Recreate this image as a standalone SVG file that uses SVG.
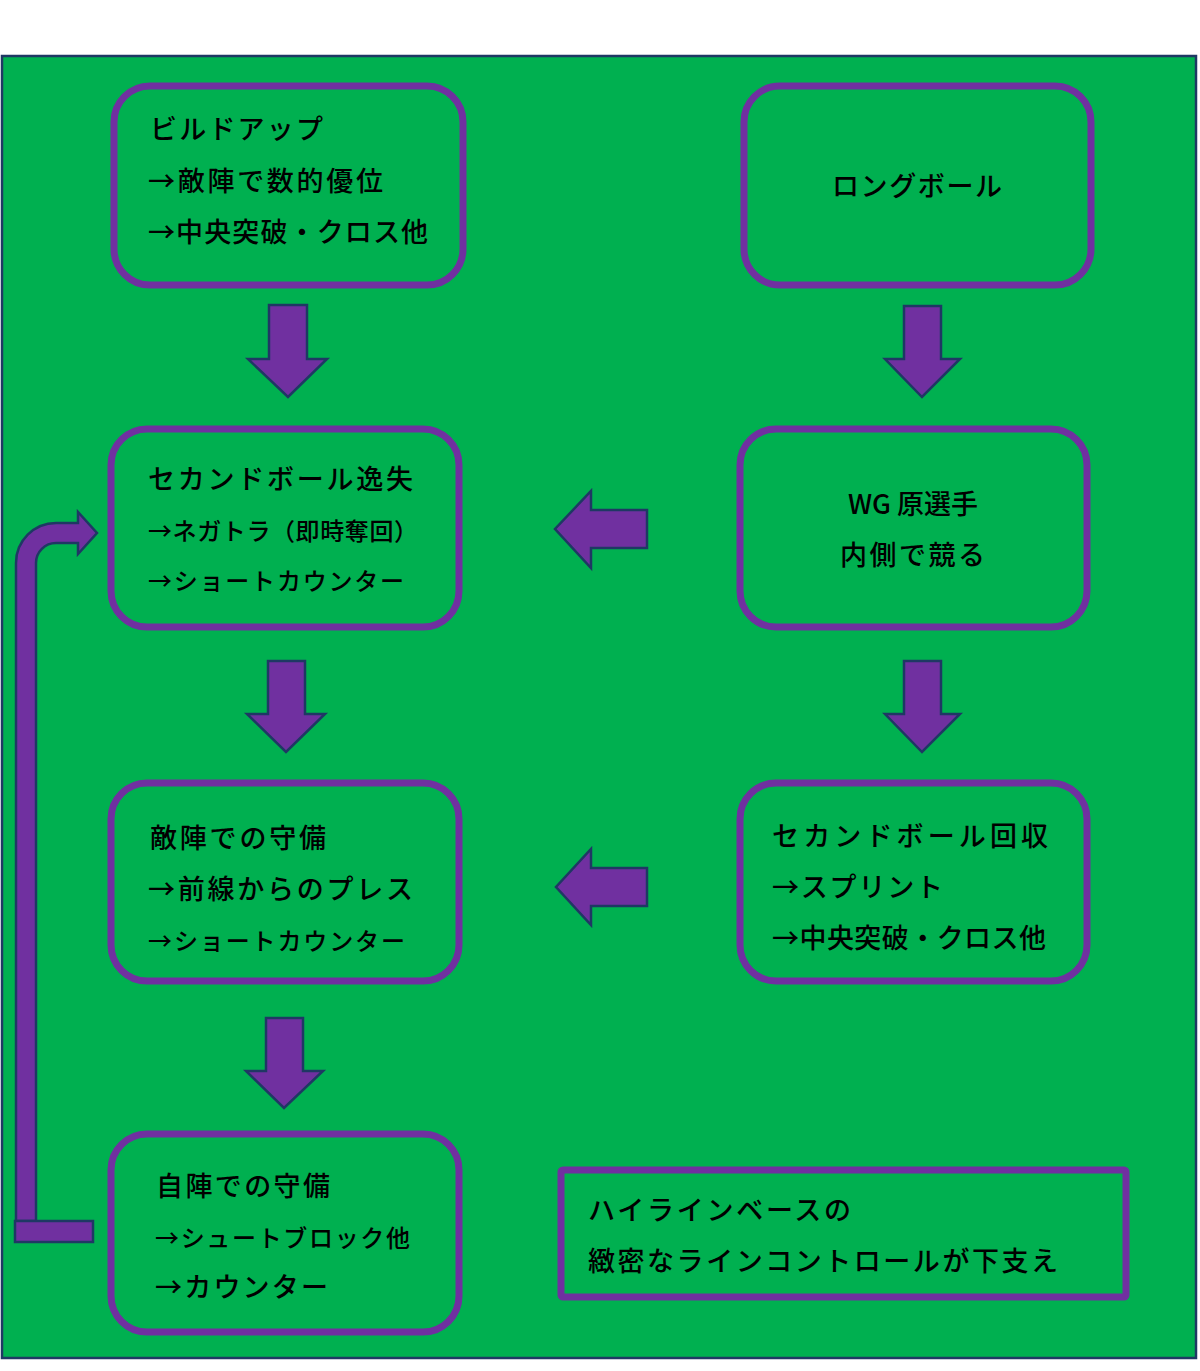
<svg xmlns="http://www.w3.org/2000/svg" width="1200" height="1371" viewBox="0 0 1200 1371">
<style>
.bg{fill:#00B050;stroke:#1F3864;stroke-width:2.5}
.box{fill:#00B050;stroke:#7030A0;stroke-width:7}
.arr{fill:#7030A0;stroke:#1F3864;stroke-width:2.5;stroke-linejoin:miter}
text{font-family:"Noto Sans CJK JP","Noto Sans CJK SC",sans-serif;font-size:27px;font-weight:500;fill:#000}
.s{font-size:24px}
</style>
<rect x="0" y="0" width="1200" height="1371" fill="#ffffff"/>
<rect class="bg" x="2" y="56" width="1194" height="1302"/>

<g id="connectors">
<path class="arr" d="M269,305 H307 V359 H327 L288,397 L248,359 H269 Z"/>
<path class="arr" d="M904,306 H941 V359 H960 L922,397 L885,359 H904 Z"/>
<path class="arr" d="M268,661 H305 V714 H325 L286,752 L247,714 H268 Z"/>
<path class="arr" d="M904,661 H941 V714 H960 L922,752 L885,714 H904 Z"/>
<path class="arr" d="M266,1018 H303 V1071 H323 L284,1108 L246,1071 H266 Z"/>
<path class="arr" d="M647,510 V548 H591 V568 L555,529 L591,491 V510 Z"/>
<path class="arr" d="M647,868 V906 H591 V925 L556,887 L591,849 V868 Z"/>
<path class="arr" d="M16,1221 V563 A40,40 0 0 1 56,523 H78 V512 L97,533 L78,554 V543 H56 A20,20 0 0 0 36,563 V1221 Z"/>
<rect class="arr" x="15" y="1221" width="78" height="21"/>
</g>

<g id="n1">
<rect class="box" x="114" y="86" width="349" height="199" rx="36"/>
<text x="150" y="139" textLength="173" lengthAdjust="spacing">ビルドアップ</text>
<text x="148" y="191" textLength="235" lengthAdjust="spacing">→敵陣で数的優位</text>
<text x="148" y="242" textLength="280" lengthAdjust="spacing">→中央突破・クロス他</text>
</g>
<g id="n2">
<rect class="box" x="744" y="86" width="347" height="199" rx="36"/>
<text x="832" y="196" textLength="170" lengthAdjust="spacing">ロングボール</text>
</g>
<g id="n3">
<rect class="box" x="111" y="429" width="348" height="198" rx="36"/>
<text x="148" y="489" textLength="265" lengthAdjust="spacing">セカンドボール逸失</text>
<text class="s" x="148" y="540" textLength="270" lengthAdjust="spacing">→ネガトラ（即時奪回）</text>
<text class="s" x="148" y="590" textLength="256" lengthAdjust="spacing">→ショートカウンター</text>
</g>
<g id="n4">
<rect class="box" x="740" y="429" width="347" height="198" rx="36"/>
<text x="913" y="514" text-anchor="middle">WG 原選手</text>
<text x="840" y="565" textLength="145" lengthAdjust="spacing">内側で競る</text>
</g>
<g id="n5">
<rect class="box" x="111" y="783" width="348" height="198" rx="36"/>
<text x="150" y="848" textLength="176" lengthAdjust="spacing">敵陣での守備</text>
<text x="148" y="899" textLength="265" lengthAdjust="spacing">→前線からのプレス</text>
<text class="s" x="148" y="950" textLength="257" lengthAdjust="spacing">→ショートカウンター</text>
</g>
<g id="n6">
<rect class="box" x="740" y="783" width="347" height="198" rx="36"/>
<text x="772" y="846" textLength="276" lengthAdjust="spacing">セカンドボール回収</text>
<text x="772" y="897" textLength="171" lengthAdjust="spacing">→スプリント</text>
<text x="772" y="948" textLength="274" lengthAdjust="spacing">→中央突破・クロス他</text>
</g>
<g id="n7">
<rect class="box" x="111" y="1134" width="348" height="198" rx="36"/>
<text x="156" y="1196" textLength="174" lengthAdjust="spacing">自陣での守備</text>
<text class="s" x="155" y="1247" textLength="255" lengthAdjust="spacing">→シュートブロック他</text>
<text x="155" y="1297" textLength="173" lengthAdjust="spacing">→カウンター</text>
</g>
<g id="note">
<rect class="box" x="561" y="1170" width="565" height="127" rx="2"/>
<text x="588" y="1220" textLength="263" lengthAdjust="spacing">ハイラインベースの</text>
<text x="588" y="1271" textLength="470" lengthAdjust="spacing">緻密なラインコントロールが下支え</text>
</g>
</svg>
